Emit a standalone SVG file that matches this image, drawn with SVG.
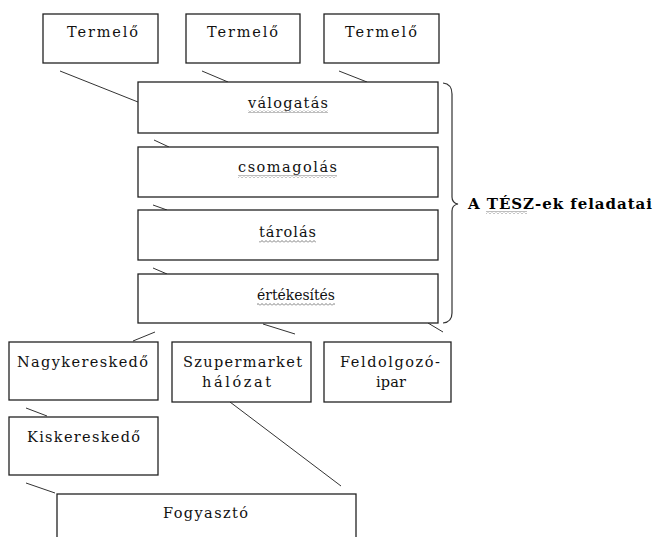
<svg xmlns="http://www.w3.org/2000/svg" width="655" height="537" viewBox="0 0 655 537">
<defs>
<style>
.box{fill:#fff;stroke:#222;stroke-width:1.3}
.t{font-family:"DejaVu Serif","Liberation Serif",serif;font-size:14.5px;fill:#111}
.b{font-family:"DejaVu Serif","Liberation Serif",serif;font-size:15px;font-weight:bold;fill:#000}
.c line{stroke:#333;stroke-width:1}
.brace{fill:none;stroke:#333;stroke-width:1.2}
.wv{fill:url(#wave)}
</style>
<pattern id="wave" width="4" height="3" patternUnits="userSpaceOnUse">
<path d="M0,2.5 L2,0.5 L4,2.5" fill="none" stroke="#6f6f6f" stroke-width="0.9"/>
</pattern>
</defs>
<rect width="655" height="537" fill="#fff"/>

<g id="connectors" class="c">
<line x1="60" y1="71" x2="138" y2="102"/>
<line x1="202" y1="71" x2="228" y2="82"/>
<line x1="339" y1="71" x2="367" y2="82"/>
<line x1="154" y1="140" x2="169" y2="147"/>
<line x1="153" y1="205" x2="167" y2="210"/>
<line x1="153" y1="268" x2="167" y2="274"/>
<line x1="155" y1="332" x2="133" y2="341"/>
<line x1="263" y1="324" x2="295" y2="334"/>
<line x1="428" y1="323" x2="443" y2="332"/>
<line x1="26" y1="408" x2="47" y2="416"/>
<line x1="26" y1="483" x2="55" y2="493"/>
<line x1="230" y1="402" x2="341" y2="486"/>
</g>

<g id="termelo1"><rect class="box" x="43" y="14" width="115" height="49"/><text class="t" x="67" y="37" textLength="71" lengthAdjust="spacing">Termelő</text></g>
<g id="termelo2"><rect class="box" x="186" y="14" width="114" height="49"/><text class="t" x="207" y="37" textLength="71" lengthAdjust="spacing">Termelő</text></g>
<g id="termelo3"><rect class="box" x="324" y="14" width="115" height="49"/><text class="t" x="345" y="37" textLength="72" lengthAdjust="spacing">Termelő</text></g>

<g id="valogatas"><rect class="box" x="138" y="82" width="300" height="51"/><text class="t" x="248" y="108" textLength="80" lengthAdjust="spacing">válogatás</text><rect class="wv" x="248" y="110" width="80" height="3"/></g>
<g id="csomagolas"><rect class="box" x="138" y="147" width="300" height="50"/><text class="t" x="238" y="172" textLength="99" lengthAdjust="spacing">csomagolás</text><rect class="wv" x="238" y="175" width="99" height="3"/></g>
<g id="tarolas"><rect class="box" x="138" y="210" width="300" height="50"/><text class="t" x="259" y="237" textLength="57" lengthAdjust="spacing">tárolás</text><rect class="wv" x="259" y="240" width="57" height="3"/></g>
<g id="ertekesites"><rect class="box" x="138" y="274" width="300" height="49"/><text class="t" x="257" y="300" textLength="78" lengthAdjust="spacingAndGlyphs">értékesítés</text><rect class="wv" x="257" y="303" width="78" height="3"/></g>

<g id="tesz-label">
<path class="brace" d="M443,83 Q452,84 452,94 L452,197 Q452,203 458,204 Q452,205 452,211 L452,313 Q452,322 443,323"/>
<text class="b" x="468" y="209" textLength="184" lengthAdjust="spacing">A TÉSZ-ek feladatai</text>
<rect class="wv" x="486" y="211" width="41" height="3"/>
</g>

<g id="nagykereskedo"><rect class="box" x="9" y="342" width="149" height="58"/><text class="t" x="17" y="367" textLength="131" lengthAdjust="spacing">Nagykereskedő</text></g>
<g id="szupermarket"><rect class="box" x="172" y="342" width="139" height="60"/><text class="t" x="183" y="367" textLength="119" lengthAdjust="spacing">Szupermarket</text><text class="t" x="202" y="387" textLength="69" lengthAdjust="spacing">hálózat</text></g>
<g id="feldolgozo"><rect class="box" x="324" y="342" width="127" height="60"/><text class="t" x="340" y="367" textLength="100" lengthAdjust="spacing">Feldolgozó-</text><text class="t" x="376" y="387" textLength="30" lengthAdjust="spacing">ipar</text></g>
<g id="kiskereskedo"><rect class="box" x="9" y="417" width="149" height="58"/><text class="t" x="27" y="442" textLength="113" lengthAdjust="spacing">Kiskereskedő</text></g>
<g id="fogyaszto"><rect class="box" x="57" y="494" width="299" height="60"/><text class="t" x="163" y="518" textLength="85" lengthAdjust="spacing">Fogyasztó</text></g>
</svg>
